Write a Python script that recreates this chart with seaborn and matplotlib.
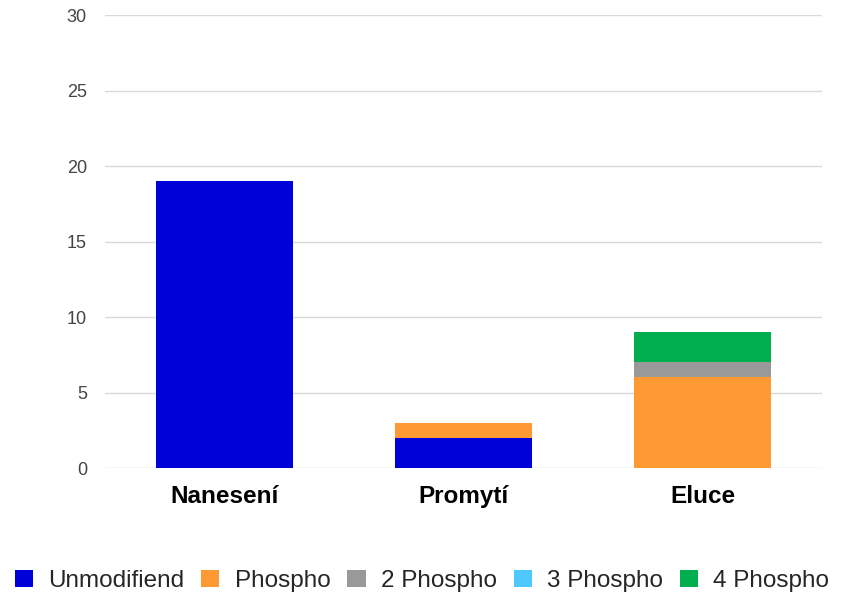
import matplotlib
matplotlib.use('Agg')
import matplotlib.pyplot as plt
from matplotlib.patches import Patch
import seaborn as sns
import numpy as np
import pandas as pd

categories = ['Nanesení', 'Promytí', 'Eluce']
series_names = ['Unmodifiend', 'Phospho', '2 Phospho', '3 Phospho', '4 Phospho']
unmodified = [19, 2, 0]
phospho = [0, 1, 6]
phospho2 = [0, 0, 1]
phospho3 = [0, 0, 0]
phospho4 = [0, 0, 2]
colors = ['#0000d9', '#ff9933', '#999999', '#4dc9ff', '#00ad4f']
y_ticks = [0, 5, 10, 15, 20, 25, 30]

sns.set_style('white')
plt.rcParams['font.family'] = ['Liberation Sans', 'DejaVu Sans']

fig = plt.figure(figsize=(8.44, 5.95), dpi=100)
ax = fig.add_axes([0.1244, 0.2134, 0.8495, 0.7613])

# stacked bars: draw the cumulative totals from the top segment down
series = [unmodified, phospho, phospho2, phospho3, phospho4]
cum = np.cumsum(np.array(series), axis=0)
for i in range(len(series) - 1, -1, -1):
    df = pd.DataFrame({'cat': categories, 'val': cum[i]})
    sns.barplot(data=df, x='cat', y='val', color=colors[i], saturation=1,
                width=0.57, linewidth=0, ax=ax, zorder=2)

ax.set_xlim(-0.5, 2.5)
ax.set_ylim(0, 30)
ax.set_yticks(y_ticks)
ax.yaxis.grid(True, color='#d9d9d9', linewidth=1, zorder=0)
ax.set_axisbelow(True)
for s in ax.spines.values():
    s.set_visible(False)
ax.set_xlabel('')
ax.set_ylabel('')
ax.tick_params(axis='y', length=0, pad=13, labelsize=13, labelcolor='#444444')
ax.tick_params(axis='x', length=0, pad=12, labelsize=17.5)
for lab in ax.get_xticklabels():
    lab.set_fontweight('bold')
    lab.set_color('black')

handles = [Patch(facecolor=c, edgecolor='none') for c in colors]
fig.legend(handles, series_names, loc='center', bbox_to_anchor=(0.5, 0.024),
           ncol=5, frameon=False, fontsize=17.5, handlelength=0.75,
           handleheight=0.75, handletextpad=0.62, columnspacing=0.7,
           borderpad=0, borderaxespad=0)

fig.savefig('out.png', dpi=100)
